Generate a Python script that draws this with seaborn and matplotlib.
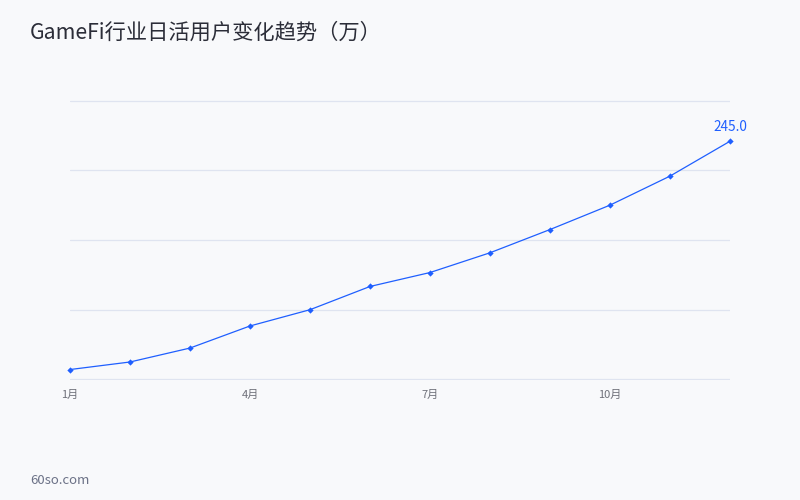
import pandas as pd
import matplotlib.pyplot as plt
import seaborn as sns

# Data (万)
months = ['1月', '2月', '3月', '4月', '5月', '6月', '7月', '8月', '9月', '10月', '11月', '12月']
users = [48.5, 55.0, 67.0, 86.0, 100.0, 120.0, 132.0, 149.0, 169.0, 190.0, 215.0, 245.0]
tick_pos = [0, 3, 6, 9]
tick_labels = ['1月', '4月', '7月', '10月']

df = pd.DataFrame({'idx': range(len(months)), 'month': months, 'users': users})

sns.set_theme(style="white")
plt.rcParams['font.family'] = ['Noto Sans CJK SC', 'DejaVu Sans']

bg = '#f8f9fb'
blue = '#1f5fff'

fig = plt.figure(figsize=(8, 5), dpi=100, facecolor=bg)
ax = fig.add_axes([0.0875, 0.24, 0.825, 0.56], facecolor=bg)

sns.lineplot(x='idx', y='users', data=df, ax=ax, color=blue, linewidth=0.9,
             marker='D', markersize=3.2, markeredgewidth=0, zorder=3, clip_on=False)

# Label for the last point
ax.annotate(f"{users[-1]:.1f}", (df['idx'].iloc[-1], users[-1]),
            xytext=(0, 5.5), textcoords='offset points', ha='center', va='bottom',
            color=blue, fontsize=9.8)

ax.set_xlim(0, len(months) - 1)
ax.set_ylim(39.5, 280.5)
ax.set_yticks([40, 100, 160, 220, 280])
ax.set_yticklabels([])
ax.tick_params(axis='y', length=0)
ax.set_xticks(tick_pos)
ax.set_xticklabels(tick_labels, color='#6e7079', fontsize=8)
ax.tick_params(axis='x', length=0, pad=7)
ax.yaxis.grid(True, color='#dfe4f0', linewidth=0.9)
ax.set_axisbelow(True)
for s in ax.spines.values():
    s.set_visible(False)
ax.set_xlabel('')
ax.set_ylabel('')

fig.text(30 / 800, 1 - 33 / 500, 'GameFi行业日活用户变化趋势（万）', fontsize=15.3,
         color='#2b2d38', ha='left', va='center')
fig.text(30 / 800, 1 - 480 / 500, '60so.com', fontsize=9.5, color='#6b7186',
         ha='left', va='center')

plt.savefig('out.png', dpi=100, facecolor=bg)
